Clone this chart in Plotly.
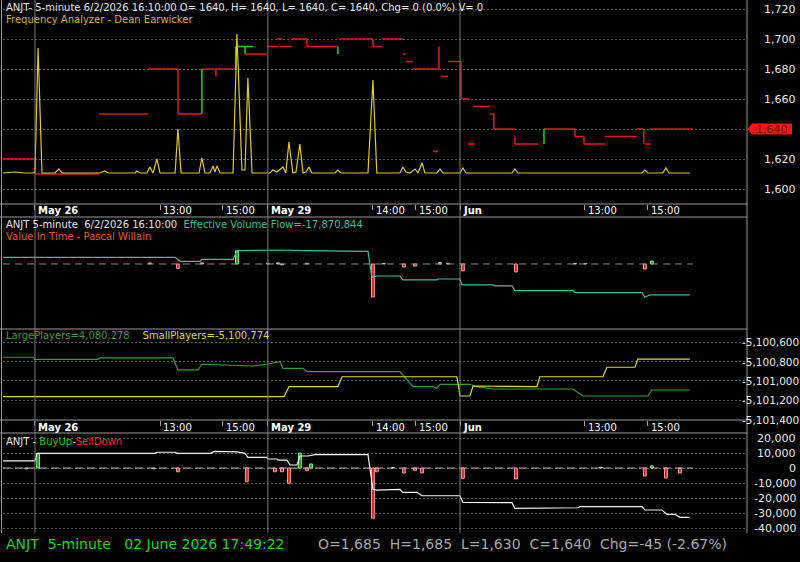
import plotly.graph_objects as go

FONT = "DejaVu Sans"

# ---------------- x axis: 5-minute bar index (sessions concatenated) ----------------
x_range = [0, 286.2]
x_tick_pos = [12.3, 60.4, 84.6, 101.9, 142.3, 158.8, 175.8, 223.8, 248.0]
x_tick_text = ["May 26", "13:00", "15:00", "May 29", "14:00", "15:00", "Jun", "13:00", "15:00"]
x_tick_is_day = [True, False, False, True, False, False, True, False, False]
last_bar = 265.4

# ---------------- Panel 1: price steps (close) ----------------
price_seg_start = [0, 12.3, 36.9, 55.8, 67.3, 76.5, 90.0, 93.1, 101.5, 105.4, 106.5, 111.2, 116.9,
                   129.6, 142.3, 145.8, 153.8, 155.0, 157.7, 168.5, 171.2, 176.2, 180.8, 187.3,
                   188.8, 196.9, 208.1, 220.0, 223.5, 231.5, 243.8, 246.9, 248.8, 165.4, 178.8]
price_seg_end = [12.3, 36.9, 55.8, 67.3, 76.5, 89.2, 96.2, 101.5, 105.8, 107.3, 111.2, 116.9, 128.5,
                 142.3, 145.8, 153.8, 155.0, 157.7, 168.1, 171.2, 176.2, 179.6, 187.3, 188.8,
                 196.9, 205.8, 220.0, 223.5, 231.5, 243.8, 246.2, 249.2, 265.4, 167.3, 181.5]
price_seg_val = [1620, 1610, 1650, 1680, 1650, 1680, 1695, 1690, 1695, 1700, 1695, 1700, 1695,
                 1700, 1695, 1700, 1690, 1685, 1680, 1675, 1685, 1660, 1655, 1650,
                 1640, 1630, 1640, 1635, 1630, 1635, 1640, 1630, 1640, 1625, 1630]
price_seg_up = [False] * 6 + [True] + [False] * 28

price_conn_x = [12.3, 67.3, 76.5, 81.9, 89.5, 93.1, 116.9, 128.8, 142.3, 167.7, 176.2, 188.8,
                196.9, 208.1, 220.0, 223.5, 246.5]
price_conn_from = [1620, 1680, 1650, 1680, 1680, 1690, 1700, 1690, 1700, 1695, 1685, 1650,
                   1635, 1630, 1640, 1635, 1640]
price_conn_to = [1610, 1650, 1680, 1675, 1695, 1695, 1695, 1695, 1695, 1680, 1660, 1640,
                 1630, 1640, 1635, 1630, 1630]
last_price = 1640

# Frequency Analyzer (oscillator, own overlay scale)
fa_x = [0, 4.6, 8.5, 11.5, 12.3, 13.5, 15.0, 20.0, 21.5, 22.7, 37.3, 39.2, 40.4, 50.8, 51.5, 52.7,
        55.4, 56.5, 57.7, 59.2, 60.4, 66.2, 67.3, 68.5, 75.4, 76.5, 77.7, 79.6, 80.8, 81.5, 82.3,
        83.5, 88.5, 90.0, 91.9, 93.1, 94.2, 95.8, 102.7, 103.8, 105.4, 106.5, 107.7, 108.8, 110.0,
        111.5, 112.7, 114.2, 115.4, 116.5, 117.7, 118.8, 127.7, 128.8, 130.0, 140.4, 142.3, 143.8,
        152.7, 153.8, 155.0, 156.5, 157.7, 158.5, 159.6, 161.2, 162.3, 166.9, 168.1, 169.2, 175.8,
        176.9, 178.1, 195.8, 196.9, 198.1, 245.8, 246.9, 248.1, 253.8, 255.0, 256.2, 264.2]
fa_y = [0, 1, 0, 0, 1, 125, 0, 0, 4, 0, 0, 2, 0, 0, 2, 0,
        0, 6, 0, 14, 0, 0, 44, 0, 0, 15, 0, 0, 7, 1, 7,
        0, 0, 139, 3, 3, 95, 0, 0, 3, 1, 3, 6, 0, 31,
        0, 1, 29, 0, 1, 6, 0, 0, 3, 0, 0, 93, 0,
        0, 6, 1, 0, 2, 4, 0, 10, 0, 0, 4, 0, 0,
        5, 0, 0, 4, 0, 0, 3, 0, 0, 5, 0, 0]

# ---------------- Panel 2: Effective Volume Flow (millions) + Value In Time bars ----------------
evf_x = [0, 66.2, 68.1, 75.8, 76.5, 88.5, 90.0, 105.4, 116.2, 140.4, 141.9, 143.8, 152.7, 153.8,
         166.9, 167.3, 175.8, 176.5, 188.5, 189.2, 195.8, 196.9, 219.2, 220.0, 245.8, 246.9,
         248.8, 264.2]
evf_y = [3.86, 3.86, 1.56, 1.56, 2.71, 2.71, 7.67, 8.07, 7.67, 7.32, -7.67, -6.92, -6.92, -9.22,
         -9.22, -8.65, -8.65, -12.1, -12.1, -12.68, -12.68, -15.39, -15.39, -16.55, -16.55, -19.2,
         -17.87, -17.87]
vit_x = [56.5, 67.3, 76.5, 90.0, 101.9, 105.8, 107.3, 116.9, 142.3, 146.5, 154.2, 158.5, 168.1,
         171.2, 176.9, 197.3, 220.0, 224.0, 246.9, 249.6]
vit_y = [0.6, -2.5, 0.6, 7.7, 0.4, 0.6, -0.5, 0.4, -19.0, 0.3, -1.7, -1.2, 0.8,
         0.4, -4.0, -4.6, 0.3, 0.3, -2.9, 1.7]

# ---------------- Panel 3: Large / Small players ----------------
large_x = [0, 11.5, 12.3, 36.5, 37.3, 65.4, 67.3, 75.0, 76.5, 96.2, 101.5, 105.4, 106.5, 107.7,
           115.4, 116.9, 152.7, 157.7, 165.4, 166.9, 168.1, 179.6, 182.3, 188.5, 219.2, 223.1,
           248.1, 249.6, 264.2]
large_y = [-5100755, -5100755, -5100776, -5100776, -5100762, -5100762, -5100886, -5100886,
           -5100827, -5100845, -5100827, -5100800, -5100800, -5100869, -5100869, -5100904,
           -5100904, -5101059, -5101059, -5101075, -5101034, -5101034, -5101059, -5101083,
           -5101083, -5101155, -5101155, -5101093, -5101093]
small_x = [0, 108.1, 110.0, 128.8, 130.4, 174.6, 175.8, 179.6, 180.8, 205.4, 206.5, 230.8, 232.3,
           243.1, 244.2, 264.2]
small_y = [-5101162, -5101162, -5101059, -5101059, -5100956, -5100956, -5101155, -5101155,
           -5101052, -5101059, -5100956, -5100956, -5100858, -5100858, -5100774, -5100774]

# ---------------- Panel 4: BuyUp - SellDown ----------------
bs_x = [0, 12.3, 13.1, 58.5, 59.2, 66.2, 66.9, 79.6, 81.5, 89.2, 90.0, 93.1, 94.2, 101.5, 101.9,
        105.4, 105.8, 109.2, 110.4, 113.1, 114.2, 117.3, 120.0, 140.4, 141.2, 142.3, 143.8, 152.7,
        153.8, 159.2, 161.2, 175.8, 176.9, 180.8, 182.3, 195.8, 196.9, 206.5, 207.7, 221.2, 221.9,
        245.8, 246.9, 253.5, 255.4, 258.5, 260.4, 264.2]
bs_y = [4700, 4700, 9800, 9800, 10500, 10500, 9800, 9800, 11100, 11100, 10700, 9800, 7100, 7100,
        6000, 6000, 5300, 5300, 2000, 2000, 8000, 8000, 8900, 8900, -1300, -14200, -14700, -14200,
        -16200, -16200, -18500, -18500, -22900, -22900, -23100, -23100, -26900, -26900, -26500,
        -26500, -25800, -25800, -28000, -28000, -30900, -30900, -32900, -32900]
bsbar_x = [9.0, 13.5, 58.0, 67.3, 93.8, 104.6, 107.3, 110.0, 114.2, 116.9, 118.5, 142.3, 143.8,
           150.0, 154.2, 158.5, 161.2, 176.9, 197.3, 230.0, 246.9, 249.6, 255.0, 260.4]
bsbar_y = [-600, 9800, -500, -2500, -9100, -2500, -2500, -10200, 10000, -1800, 2700, -33500,
           -2500, 400, -3300, -1500, -3300, -6900, -7300, 500, -5300, 1500, -6700, -3300]

# right axis labels
p1_ticks = [1600, 1620, 1640, 1660, 1680, 1700, 1720]
p3_ticks = [-5100600, -5100800, -5101000, -5101200, -5101400]
p4_ticks = [20000, 10000, 0, -10000, -20000, -30000, -40000]

# ---------------- layout geometry (pixels of the 800x562 page) ----------------
H = 562


def py(p):
    return 1 - p / H


def pxp(p):
    return (p - 3) / 744.0


RED = "#d81818"
GREEN = "#19c819"

fig = go.Figure()

# Panel 1 traces
fig.add_trace(go.Scatter(x=fa_x, y=fa_y, mode="lines", line=dict(color="#e0c832", width=1.2),
                         xaxis="x", yaxis="y5"))
for up, col in [(False, RED), (True, GREEN)]:
    xs, ys = [], []
    for a, b, v, u in zip(price_seg_start, price_seg_end, price_seg_val, price_seg_up):
        if u == up:
            xs += [a, b, None]
            ys += [v, v, None]
    for c, f, t in zip(price_conn_x, price_conn_from, price_conn_to):
        if (t > f) == up:
            xs += [c, c, None]
            ys += [f, t, None]
    fig.add_trace(go.Scatter(x=xs, y=ys, mode="lines", line=dict(color=col, width=1.6),
                             xaxis="x", yaxis="y", connectgaps=False))


def bar_colors(vals, small):
    fills, lines = [], []
    for v in vals:
        if abs(v) < small:
            fills.append("#9a9a9a"); lines.append("#c8c8c8")
        elif v < 0:
            fills.append("#d02828"); lines.append("#ff9a9a")
        else:
            fills.append("#1e9e1e"); lines.append("#7cf07c")
    return fills, lines


# Panel 2
fig.add_trace(go.Scatter(x=[0, last_bar], y=[0, 0], mode="lines",
                         line=dict(color="#8c8c8c", width=1, dash="7px,5px"), xaxis="x2", yaxis="y2"))
f2, l2 = bar_colors(vit_y, 1.0)
fig.add_trace(go.Bar(x=vit_x, y=vit_y, width=1.1, marker=dict(color=f2, line=dict(color=l2, width=1)),
                     xaxis="x2", yaxis="y2"))
fig.add_trace(go.Scatter(x=evf_x, y=evf_y, mode="lines", line=dict(color="#3cbf9c", width=1.2),
                         xaxis="x2", yaxis="y2"))

# Panel 3
fig.add_trace(go.Scatter(x=large_x, y=large_y, mode="lines", line=dict(color="#3a9c3a", width=1.2),
                         xaxis="x3", yaxis="y3"))
fig.add_trace(go.Scatter(x=small_x, y=small_y, mode="lines", line=dict(color="#dcdc30", width=1.2),
                         xaxis="x3", yaxis="y3"))

# Panel 4
fig.add_trace(go.Scatter(x=[0, last_bar], y=[0, 0], mode="lines",
                         line=dict(color="#b4b4b4", width=1, dash="8px,4px"), xaxis="x4", yaxis="y4"))
f4, l4 = bar_colors(bsbar_y, 1000)
fig.add_trace(go.Bar(x=bsbar_x, y=bsbar_y, width=1.1, marker=dict(color=f4, line=dict(color=l4, width=1)),
                     xaxis="x4", yaxis="y4"))
fig.add_trace(go.Scatter(x=bs_x, y=bs_y, mode="lines", line=dict(color="#f4f4f4", width=1.2),
                         xaxis="x4", yaxis="y4"))

GRID = "#5a5a5a"
xcommon = dict(range=x_range, domain=[0, 1], showgrid=False, zeroline=False, showline=False,
               showticklabels=False, fixedrange=True)
xt = dict(tickvals=x_tick_pos, ticks="outside", ticklen=5, tickcolor="#a0a0a0", tickwidth=1)

fig.update_layout(
    width=800, height=562,
    margin=dict(l=3, r=53, t=0, b=0),
    paper_bgcolor="black", plot_bgcolor="black",
    showlegend=False, hovermode=False, bargap=0,
    font=dict(family=FONT, size=10, color="#e6e6e6"),
    xaxis=dict(anchor="y", **xcommon, **xt),
    xaxis2=dict(anchor="y2", matches="x", ticks="", **xcommon),
    xaxis3=dict(anchor="y3", matches="x", **xcommon, **xt),
    xaxis4=dict(anchor="y4", matches="x", ticks="", **xcommon),
    yaxis=dict(domain=[py(204), 1], range=[1590, 1726], tickvals=p1_ticks, showticklabels=False,
               showgrid=True, gridcolor=GRID, griddash="2px,2px", zeroline=False, fixedrange=True),
    yaxis5=dict(overlaying="y", range=[-31, 173], visible=False, fixedrange=True),
    yaxis2=dict(domain=[py(329), py(217)], range=[-37.5, 27.1], showticklabels=False,
                showgrid=False, zeroline=False, fixedrange=True),
    yaxis3=dict(domain=[py(420), py(329)], range=[-5101403, -5100463], tickvals=p3_ticks,
                showticklabels=False, showgrid=True, gridcolor=GRID, griddash="2px,2px",
                zeroline=False, fixedrange=True),
    yaxis4=dict(domain=[py(530), py(433)], range=[-41333, 23333], tickvals=p4_ticks,
                showticklabels=False, showgrid=True, gridcolor=GRID, griddash="2px,2px",
                zeroline=False, fixedrange=True),
)

shapes = []
BORDER = "#9a9a9a"
for p in [204, 217, 329, 420, 433]:
    shapes.append(dict(type="line", xref="paper", yref="paper", x0=pxp(0), x1=1, y0=py(p), y1=py(p),
                       line=dict(color=BORDER, width=1)))
shapes.append(dict(type="line", xref="paper", yref="paper", x0=1, x1=1, y0=py(533), y1=1,
                   line=dict(color=BORDER, width=1)))
shapes.append(dict(type="line", xref="paper", yref="paper", x0=pxp(1.5), x1=pxp(1.5), y0=py(533), y1=1,
                   line=dict(color=BORDER, width=1)))
for xv, d in zip(x_tick_pos, x_tick_is_day):
    if d:
        shapes.append(dict(type="line", xref="x", yref="paper", x0=xv, x1=xv, y0=py(533), y1=1,
                           line=dict(color="#7a7a7a", width=1)))
# last price marker (arrow tag)
shapes.append(dict(type="path", xref="paper", yref="y",
                   path=f"M {pxp(747.5)},{last_price} L {pxp(752)},{last_price + 3.6} "
                        f"L {pxp(792)},{last_price + 3.6} L {pxp(792)},{last_price - 3.6} "
                        f"L {pxp(752)},{last_price - 3.6} Z",
                   fillcolor="#ff1414", line=dict(width=0), layer="above"))
fig.update_layout(shapes=shapes)

ann = []
LBL_X = pxp(798)
for v in p1_ticks:
    if v == last_price:
        continue  # hidden behind the last-price tag
    ann.append(dict(x=LBL_X, y=v, xref="paper", yref="y", text=f"{v:,}", showarrow=False,
                    xanchor="right", yanchor="middle", font=dict(size=11, color="#e8e8e8")))
for v in p3_ticks:
    ann.append(dict(x=pxp(801), y=v, xref="paper", yref="y3", text=f"{v:,}", showarrow=False,
                    xanchor="right", yanchor="middle", font=dict(size=10.5, color="#e8e8e8")))
for v in p4_ticks:
    ann.append(dict(x=LBL_X, y=v, xref="paper", yref="y4", text=f"{v:,}", showarrow=False,
                    xanchor="right", yanchor="middle", font=dict(size=11, color="#e8e8e8")))
ann.append(dict(x=pxp(772), y=last_price, xref="paper", yref="y", text=f"{last_price:,}",
                showarrow=False, xanchor="center", yanchor="middle", font=dict(size=11, color="#7a0000")))

for strip in [210.7, 427.3]:
    for xv, t, d in zip(x_tick_pos, x_tick_text, x_tick_is_day):
        ann.append(dict(x=xv, y=py(strip), xref="x", yref="paper", text=f"<b>{t}</b>" if d else t,
                        showarrow=False, xanchor="left", yanchor="middle", xshift=1,
                        font=dict(size=10, color="#ffffff")))

NB = "\u00a0"


def head(ypix, text, color="#e6e6e6", size=10, xpix=4):
    ann.append(dict(x=pxp(xpix), y=py(ypix), xref="paper", yref="paper", text=text, showarrow=False,
                    xanchor="left", yanchor="middle", font=dict(size=size, color=color)))


head(7.5, "ANJT- 5-minute 6/2/2026 16:10:00 O= 1640, H= 1640, L= 1640, C= 1640, Chg= 0 (0.0%) V= 0")
head(20, "Frequency Analyzer - Dean Earwicker", color="#d8b030")
head(224.3, f"ANJT 5-minute {NB}6/2/2026 16:10:00 {NB}<span style='color:#3cbf9c'>Effective Volume Flow=-17,870,844</span>")
head(236.7, "Value In Time - Pascal Willain", color="#e8582a")
head(335.7, f"<span style='color:#3a9c3a'>LargePlayers=4,080,278</span>{NB}{NB}{NB} "
            f"<span style='color:#dcdc30'>SmallPlayers=-5,100,774</span>")
head(441, "ANJT - <span style='color:#1ec81e'>BuyUp</span>-<span style='color:#ff2020'>SellDown</span>")
head(543.5, f"ANJT {NB}5-minute {NB}{NB}02 June 2026 17:49:22", color="#1fd41f", size=14)
head(543.5, f"O=1,685 {NB}H=1,685 {NB}L=1,630 {NB}C=1,640 {NB}Chg=-45 (-2.67%)", color="#a8a8a8",
     size=14, xpix=316)

fig.update_layout(annotations=ann)

fig.write_html("out.html", config={"displayModeBar": False, "staticPlot": True})
